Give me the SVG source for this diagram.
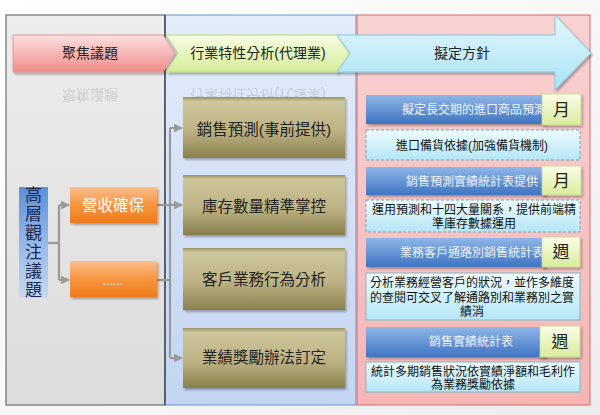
<svg xmlns="http://www.w3.org/2000/svg" width="600" height="415" viewBox="0 0 600 415">
<defs>
<linearGradient id="bg" x1="0" y1="0" x2="1" y2="1"><stop offset="0" stop-color="#ffffff"/><stop offset="0.6" stop-color="#f6f6f6"/><stop offset="1" stop-color="#ececec"/></linearGradient>
<linearGradient id="p1" x1="0" y1="0" x2="0" y2="1"><stop offset="0" stop-color="#ededed"/><stop offset="1" stop-color="#dcdcdc"/></linearGradient>
<linearGradient id="p2" x1="0" y1="0" x2="0" y2="1"><stop offset="0" stop-color="#e3ecfa"/><stop offset="1" stop-color="#c3d5f3"/></linearGradient>
<linearGradient id="p3" x1="0" y1="0" x2="0" y2="1"><stop offset="0" stop-color="#fad2d2"/><stop offset="1" stop-color="#f5b5b5"/></linearGradient>
<linearGradient id="hPink" x1="0" y1="0" x2="0" y2="1"><stop offset="0" stop-color="#fde0e0"/><stop offset="1" stop-color="#f08c8c"/></linearGradient>
<linearGradient id="hGreen" x1="0" y1="0" x2="0" y2="1"><stop offset="0" stop-color="#f7fde2"/><stop offset="1" stop-color="#d6ec98"/></linearGradient>
<linearGradient id="hBlue" x1="0" y1="0" x2="0" y2="1"><stop offset="0" stop-color="#e4f8fd"/><stop offset="1" stop-color="#a9e2f5"/></linearGradient>
<linearGradient id="vBlue" x1="0" y1="0" x2="0" y2="1"><stop offset="0" stop-color="#5b8fd8"/><stop offset="0.5" stop-color="#93b9ea"/><stop offset="1" stop-color="#c7d9f2"/></linearGradient>
<linearGradient id="orange" x1="0" y1="0" x2="0" y2="1"><stop offset="0" stop-color="#fbbf8e"/><stop offset="0.5" stop-color="#f7963f"/><stop offset="1" stop-color="#ee7a1c"/></linearGradient>
<linearGradient id="olive" x1="0" y1="0" x2="0" y2="1"><stop offset="0" stop-color="#9a9160"/><stop offset="0.07" stop-color="#cec69c"/><stop offset="0.55" stop-color="#bcb284"/><stop offset="1" stop-color="#8a804e"/></linearGradient>
<linearGradient id="bar" x1="0" y1="0" x2="0" y2="1"><stop offset="0" stop-color="#8fb6e8"/><stop offset="1" stop-color="#3f74c2"/></linearGradient>
<linearGradient id="tag" x1="0" y1="0" x2="0" y2="1"><stop offset="0" stop-color="#fbfde8"/><stop offset="1" stop-color="#d9ec9c"/></linearGradient>
<linearGradient id="cyan" x1="0" y1="0" x2="0" y2="1"><stop offset="0" stop-color="#eefbfe"/><stop offset="1" stop-color="#b4e6f7"/></linearGradient>
<filter id="sh" x="-10%" y="-10%" width="130%" height="140%"><feDropShadow dx="1.5" dy="2" stdDeviation="1.2" flood-color="#000" flood-opacity="0.3"/></filter>
<marker id="ar" viewBox="0 0 10 10" refX="9" refY="5" markerWidth="4" markerHeight="4" orient="auto" markerUnits="strokeWidth"><path d="M0,0 L10,5 L0,10 z" fill="#9a9a9a"/></marker>
<style>
text{font-family:"Liberation Sans","Noto Sans CJK TC",sans-serif;}
.hd{font-size:14px;fill:#222;text-anchor:middle;}
.rf{font-size:14px;fill:#999;text-anchor:middle;opacity:0.35;}
.ol{font-size:15.5px;fill:#222;text-anchor:middle;}
.bt{font-size:12px;fill:#eef3fb;text-anchor:middle;}
.tg{font-size:17px;fill:#222;text-anchor:middle;}
.ct{font-size:12px;fill:#111;text-anchor:middle;}
.cn{fill:none;stroke:#9a9a9a;stroke-width:2.2;}
</style>
</defs>
<rect width="600" height="415" fill="url(#bg)"/>

<g id="panels">
<rect x="6" y="15" width="159" height="390" fill="url(#p1)" stroke="#555" stroke-width="1"/>
<rect x="165" y="15" width="191" height="390" fill="url(#p2)" stroke="#6f8fcf" stroke-width="1"/>
<line x1="165" y1="15" x2="165" y2="405" stroke="#333" stroke-width="1.2"/>
<rect x="357" y="15" width="233" height="390" fill="url(#p3)" stroke="#d46a6a" stroke-width="1"/>
</g>

<g id="headers">
<g id="h1">
<path d="M13,35 L163,35 L175,53 L163,72 L13,72 Z" fill="url(#hPink)" stroke="#e49a9a" stroke-width="1" filter="url(#sh)"/>
<text class="hd" x="90" y="58">聚焦議題</text>
<text class="rf" x="90" y="-90" transform="scale(1,-1)">聚焦議題</text>
</g>
<g id="h2">
<path d="M166,35 L338,35 L350,53 L338,72 L166,72 L178,53 Z" fill="url(#hGreen)" stroke="#bcd47f" stroke-width="1" filter="url(#sh)"/>
<text class="hd" x="258" y="58">行業特性分析(代理業)</text>
<text class="rf" x="258" y="-90" transform="scale(1,-1)">行業特性分析(代理業)</text>
</g>
<g id="h3">
<path d="M337,35 L555,35 L555,15 L591,53 L555,90 L555,72 L337,72 L350,53 Z" fill="url(#hBlue)" stroke="#84c9e2" stroke-width="1" filter="url(#sh)"/>
<text class="hd" x="462" y="58">擬定方針</text>
</g>
</g>

<g id="connectors">
<path class="cn" d="M48,243 H59"/>
<path class="cn" d="M59,205 V280"/>
<path class="cn" d="M59,205 H69" marker-end="url(#ar)"/>
<path class="cn" d="M59,280 H69" marker-end="url(#ar)"/>
<path class="cn" d="M157,205 H170"/>
<path class="cn" d="M157,280 H170"/>
<path class="cn" d="M170,128 V358"/>
<path class="cn" d="M170,128 H182" marker-end="url(#ar)"/>
<path class="cn" d="M170,205 H182" marker-end="url(#ar)"/>
<path class="cn" d="M170,358 H182" marker-end="url(#ar)"/>
</g>

<g id="n-top">
<rect x="19" y="187" width="29" height="111" fill="url(#vBlue)"/>
<text font-size="17" fill="#1b2850" text-anchor="middle"><tspan x="33.5" y="201">高</tspan><tspan x="33.5" y="220">層</tspan><tspan x="33.5" y="239">觀</tspan><tspan x="33.5" y="258">注</tspan><tspan x="33.5" y="277">議</tspan><tspan x="33.5" y="296">題</tspan></text>
</g>
<g id="n-revenue">
<rect x="70" y="187" width="87" height="36" fill="url(#orange)" filter="url(#sh)"/>
<text x="113" y="211" font-size="15.5" fill="#fff" text-anchor="middle">營收確保</text>
</g>
<g id="n-more">
<rect x="70" y="261" width="87" height="36" fill="url(#orange)" filter="url(#sh)"/>
<text x="113" y="285" font-size="12" fill="#fff" text-anchor="middle">......</text>
</g>

<g id="n-forecast">
<rect x="183" y="97" width="162" height="61" fill="url(#olive)" filter="url(#sh)"/>
<text class="ol" x="264" y="135">銷售預測(事前提供)</text>
</g>
<g id="n-inventory">
<rect x="183" y="175" width="162" height="60" fill="url(#olive)" filter="url(#sh)"/>
<text class="ol" x="264" y="212">庫存數量精準掌控</text>
</g>
<g id="n-customer">
<rect x="183" y="248" width="162" height="62" fill="url(#olive)" filter="url(#sh)"/>
<text class="ol" x="264" y="285">客戶業務行為分析</text>
</g>
<g id="n-bonus">
<rect x="183" y="328" width="162" height="60" fill="url(#olive)" filter="url(#sh)"/>
<text class="ol" x="264" y="363">業績獎勵辦法訂定</text>
</g>

<g id="n-plan1">
<rect x="366" y="95" width="180" height="29" fill="url(#bar)" filter="url(#sh)"/>
<text class="bt" x="474" y="114">擬定長交期的進口商品預測</text>
<rect x="542" y="94" width="39" height="31" fill="url(#tag)" stroke="#c8d890" stroke-width="0.8" filter="url(#sh)"/>
<text class="tg" x="561.5" y="116">月</text>
</g>
<g id="n-plan1d">
<rect x="366" y="130" width="214" height="30" fill="url(#cyan)" stroke="#6aa8b8" stroke-width="1" stroke-dasharray="3,2"/>
<text class="ct" x="472" y="150" font-size="12.5">進口備貨依據(加強備貨機制)</text>
</g>
<g id="n-plan2">
<rect x="366" y="167" width="180" height="28" fill="url(#bar)" filter="url(#sh)"/>
<text class="bt" x="472" y="186">銷售預測實績統計表提供</text>
<rect x="542" y="166" width="39" height="29" fill="url(#tag)" stroke="#c8d890" stroke-width="0.8" filter="url(#sh)"/>
<text class="tg" x="561.5" y="187">月</text>
</g>
<g id="n-plan2d">
<rect x="366" y="200" width="214" height="32" fill="url(#cyan)" stroke="#6aa8b8" stroke-width="1" stroke-dasharray="3,2"/>
<text class="ct" x="474" y="214" font-size="11.8">運用預測和十四大量關系，提供前端精</text>
<text class="ct" x="474" y="228" font-size="11.8">準庫存數據運用</text>
</g>
<g id="n-plan3">
<rect x="366" y="238" width="180" height="29" fill="url(#bar)" filter="url(#sh)"/>
<text class="bt" x="472" y="257">業務客戶通路別銷售統計表</text>
<rect x="542" y="237" width="38" height="30" fill="url(#tag)" stroke="#c8d890" stroke-width="0.8" filter="url(#sh)"/>
<text class="tg" x="561" y="258">週</text>
</g>
<g id="n-plan3d">
<rect x="366" y="273" width="214" height="47" fill="url(#cyan)" stroke="#7fb8c8" stroke-width="1"/>
<text class="ct" x="472" y="287" font-size="12.5">分析業務經營客戶的狀況，並作多維度</text>
<text class="ct" x="472" y="302" font-size="12.5">的查閱可交叉了解通路別和業務別之實</text>
<text class="ct" x="472" y="316" font-size="12.5">績消</text>
</g>
<g id="n-plan4">
<rect x="366" y="327" width="180" height="30" fill="url(#bar)" filter="url(#sh)"/>
<text class="bt" x="471" y="346">銷售實績統計表</text>
<rect x="540" y="326" width="40" height="31" fill="url(#tag)" stroke="#c8d890" stroke-width="0.8" filter="url(#sh)"/>
<text class="tg" x="560" y="348">週</text>
</g>
<g id="n-plan4d">
<rect x="366" y="362" width="214" height="30" fill="url(#cyan)" stroke="#7fb8c8" stroke-width="1"/>
<text class="ct" x="473" y="376">統計多期銷售狀況依實績淨額和毛利作</text>
<text class="ct" x="473" y="389">為業務獎勵依據</text>
</g>
</svg>
